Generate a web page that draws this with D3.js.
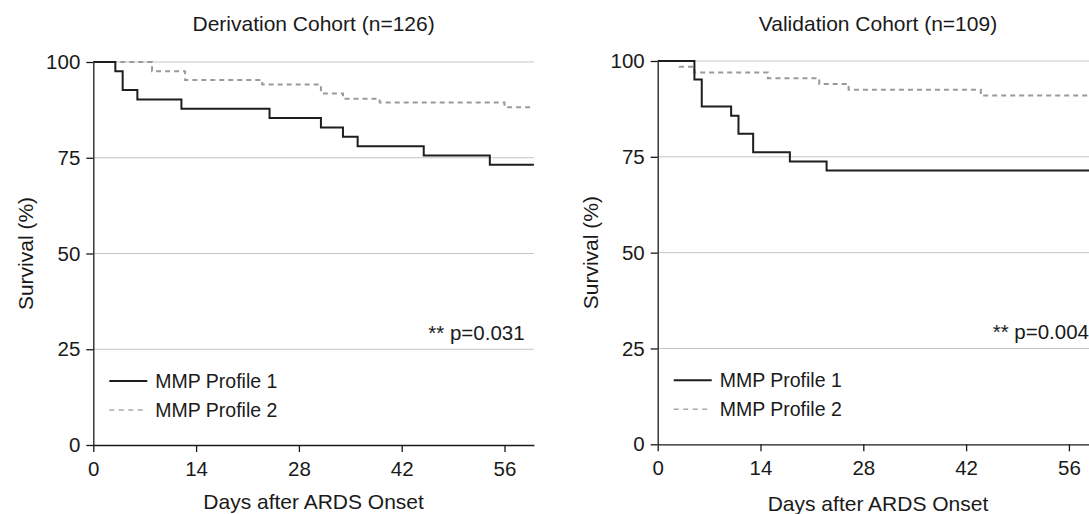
<!DOCTYPE html>
<html>
<head>
<meta charset="utf-8">
<script src="https://cdn.jsdelivr.net/npm/d3@7"></script>
<style>
  html, body { margin: 0; padding: 0; background: #fff; }
  svg { display: block; }
  text { font-family: "Liberation Sans", Arial, Helvetica, sans-serif; fill: #1a1a1a; }
</style>
</head>
<body>
<svg id="chart" width="1089" height="514"></svg>
<script>
// ---- Data ----
const xTicks = [0, 14, 28, 42, 56];
const yTicks = [0, 25, 50, 75, 100];
const seriesNames = ["MMP Profile 1", "MMP Profile 2"];

// Derivation cohort (n=126)
const derivP1Days = [0, 3, 4, 6, 12, 24, 31, 34, 36, 45, 54];
const derivP1Surv = [100, 97.6, 92.7, 90.2, 87.8, 85.4, 82.9, 80.5, 78.0, 75.6, 73.2];
const derivP2Days = [0, 8, 12.5, 23, 31, 34, 39, 56];
const derivP2Surv = [100, 97.6, 95.3, 94.1, 91.8, 90.4, 89.4, 88.2];

// Validation cohort (n=109)
const validP1Days = [0, 5, 6, 10, 11, 13, 18, 23];
const validP1Surv = [100, 95.2, 88.1, 85.7, 81.0, 76.2, 73.8, 71.4];
const validP2Days = [0, 3, 5, 15, 22, 26, 44];
const validP2Surv = [100, 98.5, 97.0, 95.5, 94.0, 92.5, 91.0];

const panels = [
  { title: "Derivation Cohort (n=126)", p: "** p=0.031",
    p1: [derivP1Days, derivP1Surv], p2: [derivP2Days, derivP2Surv],
    x0: 93.3, y0: 62, y1: 445, xLabelY: 509 },
  { title: "Validation Cohort (n=109)", p: "** p=0.004",
    p1: [validP1Days, validP1Surv], p2: [validP2Days, validP2Surv],
    x0: 657.7, y0: 61, y1: 444.3, xLabelY: 511 }
];

const maxDay = 60;
const pxPerDay = 7.343;
const svg = d3.select("#chart");
const FS = 21;

panels.forEach(pn => {
  const x = d3.scaleLinear().domain([0, maxDay]).range([pn.x0, pn.x0 + pxPerDay * maxDay]);
  const y = d3.scaleLinear().domain([0, 100]).range([pn.y1, pn.y0]);
  const g = svg.append("g");

  // gridlines
  g.selectAll("line.grid").data(yTicks.filter(d => d > 0)).enter().append("line")
    .attr("x1", x(0)).attr("x2", x(maxDay))
    .attr("y1", d => y(d)).attr("y2", d => y(d))
    .attr("stroke", "#c4c4c4").attr("stroke-width", 1);

  // axes
  const yAxis = d3.axisLeft(y).tickValues(yTicks).tickSize(7).tickPadding(6).tickSizeOuter(0);
  const xAxis = d3.axisBottom(x).tickValues(xTicks).tickSize(7).tickPadding(9).tickSizeOuter(0);
  const ya = g.append("g").attr("transform", `translate(${x(0)},0)`).call(yAxis);
  const xa = g.append("g").attr("transform", `translate(0,${y(0)})`).call(xAxis);
  [ya, xa].forEach(a => {
    a.select(".domain").attr("stroke", "#1a1a1a").attr("stroke-width", 1.3);
    a.selectAll(".tick line").attr("stroke", "#1a1a1a").attr("stroke-width", 1.3);
    a.selectAll(".tick text").attr("font-size", FS - 0.5).attr("fill", "#1a1a1a")
      .attr("font-family", "'Liberation Sans', Arial, Helvetica, sans-serif");
  });

  // step lines
  const stepLine = d3.line().x(d => x(d[0])).y(d => y(d[1])).curve(d3.curveStepAfter);
  const toPts = ([days, surv]) => {
    const pts = days.map((d, i) => [d, surv[i]]);
    pts.push([maxDay, surv[surv.length - 1]]);
    return pts;
  };
  g.append("path").datum(toPts(pn.p2)).attr("d", stepLine)
    .attr("fill", "none").attr("stroke", "#9a9a9a").attr("stroke-width", 2)
    .attr("stroke-dasharray", "5,4");
  g.append("path").datum(toPts(pn.p1)).attr("d", stepLine)
    .attr("fill", "none").attr("stroke", "#1e1e1e").attr("stroke-width", 2);

  // title
  g.append("text").attr("x", (x(0) + x(maxDay)) / 2).attr("y", 31)
    .attr("text-anchor", "middle").attr("font-size", FS).text(pn.title);
  // x label
  g.append("text").attr("x", (x(0) + x(maxDay)) / 2).attr("y", pn.xLabelY)
    .attr("text-anchor", "middle").attr("font-size", FS).text("Days after ARDS Onset");
  // y label
  g.append("text").attr("transform", `translate(${x(0) - 60},${(y(0) + y(100)) / 2}) rotate(-90)`)
    .attr("text-anchor", "middle").attr("font-size", FS).text("Survival (%)");
  // p value
  g.append("text").attr("x", x(0) + 335).attr("y", y(25) - 9)
    .attr("font-size", FS - 0.5).text(pn.p);

  // legend
  const ly = [y(0) - 64, y(0) - 35];
  g.append("line").attr("x1", x(0) + 16).attr("x2", x(0) + 54).attr("y1", ly[0]).attr("y2", ly[0])
    .attr("stroke", "#1e1e1e").attr("stroke-width", 2);
  g.append("line").attr("x1", x(0) + 16).attr("x2", x(0) + 54).attr("y1", ly[1]).attr("y2", ly[1])
    .attr("stroke", "#a8a8a8").attr("stroke-width", 1.6).attr("stroke-dasharray", "5,4.5");
  seriesNames.forEach((s, i) => {
    g.append("text").attr("x", x(0) + 62).attr("y", ly[i] + 7)
      .attr("font-size", FS - 1.5).text(s);
  });
});
</script>
</body>
</html>
